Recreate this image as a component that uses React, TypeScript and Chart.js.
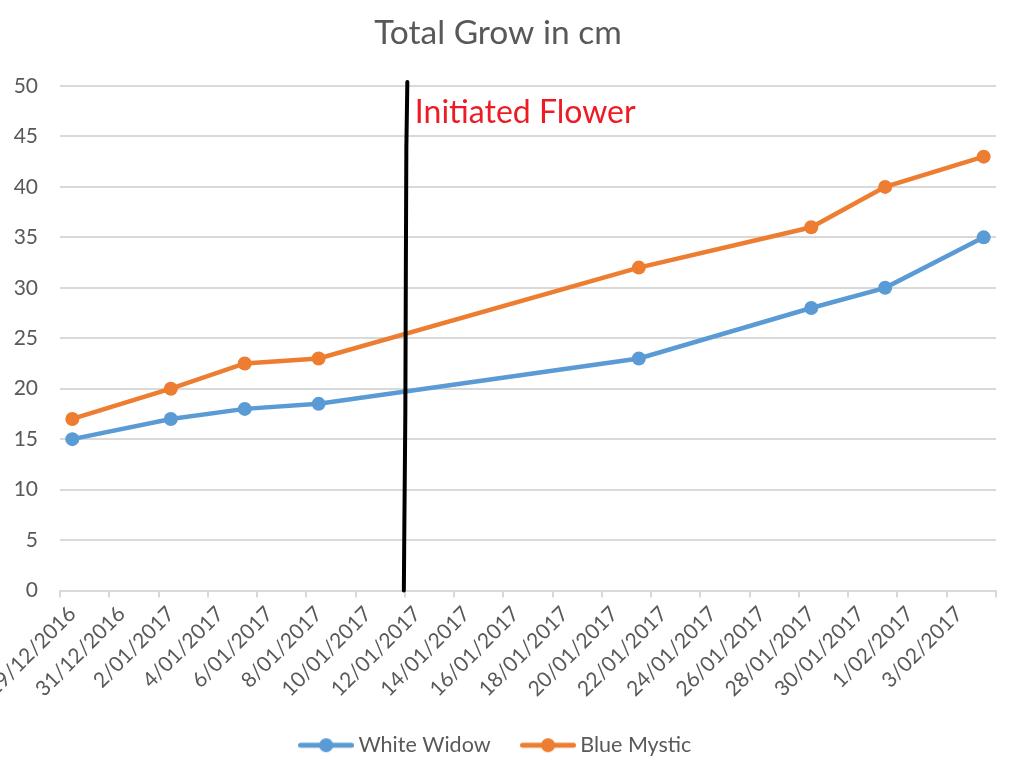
import React, { useEffect, useRef } from "react";
import { Chart, registerables } from "chart.js";

Chart.register(...registerables);

const dayLabels = [
  "29/12/2016", "30/12/2016", "31/12/2016",
  "1/01/2017", "2/01/2017", "3/01/2017", "4/01/2017", "5/01/2017", "6/01/2017", "7/01/2017",
  "8/01/2017", "9/01/2017", "10/01/2017", "11/01/2017", "12/01/2017", "13/01/2017", "14/01/2017",
  "15/01/2017", "16/01/2017", "17/01/2017", "18/01/2017", "19/01/2017", "20/01/2017", "21/01/2017",
  "22/01/2017", "23/01/2017", "24/01/2017", "25/01/2017", "26/01/2017", "27/01/2017", "28/01/2017",
  "29/01/2017", "30/01/2017", "31/01/2017",
  "1/02/2017", "2/02/2017", "3/02/2017", "4/02/2017",
];

const measureDates = ["29/12/2016", "2/01/2017", "5/01/2017", "8/01/2017", "21/01/2017", "28/01/2017", "31/01/2017", "4/02/2017"];
const whiteWidow = [15, 17, 18, 18.5, 23, 28, 30, 35];
const blueMystic = [17, 20, 22.5, 23, 32, 36, 40, 43];

const seriesNames = ["White Widow", "Blue Mystic"];
const seriesColors = ["#5B9BD5", "#ED7D31"];

const flowerDate = "12/01/2017";
const flowerText = "Initiated Flower";
const titleText = "Total Grow in cm";

const yMin = 0;
const yMax = 50;
const yStep = 5;

const FONT = "Lato, 'Open Sans', sans-serif";
const GRAY = "#595959";
const GRID = "#d9d9d9";

function makeIcon(color: string): HTMLCanvasElement {
  const c = document.createElement("canvas");
  c.width = 56;
  c.height = 18;
  const g = c.getContext("2d")!;
  g.strokeStyle = color;
  g.lineWidth = 5;
  g.lineCap = "round";
  g.beginPath();
  g.moveTo(2.5, 9);
  g.lineTo(53.5, 9);
  g.stroke();
  g.fillStyle = color;
  g.beginPath();
  g.arc(28, 9, 7, 0, Math.PI * 2);
  g.fill();
  return c;
}

const flowerPlugin = {
  id: "flowerLine",
  afterDatasetsDraw(chart: any) {
    const xs = chart.scales.x;
    const ys = chart.scales.y;
    const idx = dayLabels.indexOf(flowerDate);
    const half = (xs.getPixelForValue(1) - xs.getPixelForValue(0)) / 2;
    const x = xs.getPixelForValue(idx) - half;
    const top = ys.getPixelForValue(yMax) - 4;
    const bottom = ys.getPixelForValue(yMin);
    const ctx = chart.ctx;
    ctx.save();
    ctx.strokeStyle = "#000";
    ctx.lineWidth = 4;
    ctx.lineCap = "round";
    ctx.beginPath();
    ctx.moveTo(x + 2.5, top);
    ctx.lineTo(x + 1.5, top + 66);
    ctx.lineTo(x + 1, top + 190);
    ctx.lineTo(x + 0.5, top + 330);
    ctx.lineTo(x - 0.5, top + 445);
    ctx.lineTo(x - 1, bottom);
    ctx.stroke();
    ctx.fillStyle = "#ED1C24";
    ctx.font = `32px ${FONT}`;
    ctx.textAlign = "left";
    ctx.textBaseline = "alphabetic";
    ctx.fillText(flowerText, x + 10, top + 41);
    ctx.restore();
  },
};

export default function App() {
  const ref = useRef<HTMLCanvasElement | null>(null);

  useEffect(() => {
    document.body.style.margin = "0";
    const icons = seriesColors.map((c) => makeIcon(c));
    const mk = (vals: number[], i: number) => ({
      label: seriesNames[i],
      data: measureDates.map((d, k) => ({ x: d, y: vals[k] })),
      borderColor: seriesColors[i],
      backgroundColor: seriesColors[i],
      borderWidth: 4.5,
      pointRadius: 7,
      pointHoverRadius: 7,
      pointBorderWidth: 0,
      pointBackgroundColor: seriesColors[i],
      tension: 0,
    });
    const chart = new Chart(ref.current!, {
      type: "line",
      data: {
        labels: dayLabels,
        datasets: [mk(whiteWidow, 0), mk(blueMystic, 1)],
      },
      options: {
        animation: false,
        responsive: false,
        layout: { padding: { left: 0, right: 28, top: 0, bottom: -6 } },
        plugins: {
          title: {
            display: true,
            text: titleText,
            color: GRAY,
            font: { family: FONT, size: 33.5, weight: "normal" },
            padding: { top: 13, bottom: 32.8 },
          },
          legend: {
            position: "bottom",
            labels: {
              usePointStyle: true,
              pointStyleWidth: 43,
              padding: 36,
              color: GRAY,
              font: { family: FONT, size: 21.5 },
              generateLabels: (c: any) => {
                const items = (Chart.defaults.plugins.legend.labels as any).generateLabels(c);
                items.forEach((it: any, i: number) => {
                  it.pointStyle = icons[i];
                });
                return items;
              },
            },
          },
          tooltip: { enabled: false },
        },
        scales: {
          x: {
            type: "category",
            offset: true,
            grid: {
              offset: true,
              drawOnChartArea: false,
              drawTicks: true,
              tickLength: 7,
              lineWidth: 2,
              color: (c: any) => (c.type !== "tick" || c.index % 2 === 0 ? GRID : "rgba(0,0,0,0)"),
            },
            border: { display: true, color: GRID, width: 2 },
            ticks: {
              autoSkip: false,
              maxRotation: 45,
              minRotation: 45,
              padding: 4,
              color: GRAY,
              font: { family: FONT, size: 21 },
              callback: function (this: any, value: any, index: number) {
                return index % 2 === 0 ? this.getLabelForValue(value) : "";
              },
            },
            afterFit: (s: any) => {
              s.height = 108;
              s.paddingLeft = 0;
              s.paddingRight = 0;
            },
          },
          y: {
            min: yMin,
            max: yMax,
            grid: { color: GRID, lineWidth: 2, drawTicks: false },
            border: { display: false },
            ticks: {
              stepSize: yStep,
              padding: 22,
              color: GRAY,
              font: { family: FONT, size: 21 },
            },
            afterFit: (s: any) => {
              s.width = 60;
            },
          },
        },
      },
      plugins: [flowerPlugin],
    } as any);
    return () => chart.destroy();
  }, []);

  return (
    <div style={{ width: 1024, height: 760, overflow: "hidden", background: "#fff" }}>
      <canvas ref={ref} width={1024} height={760} style={{ display: "block" }} />
    </div>
  );
}
